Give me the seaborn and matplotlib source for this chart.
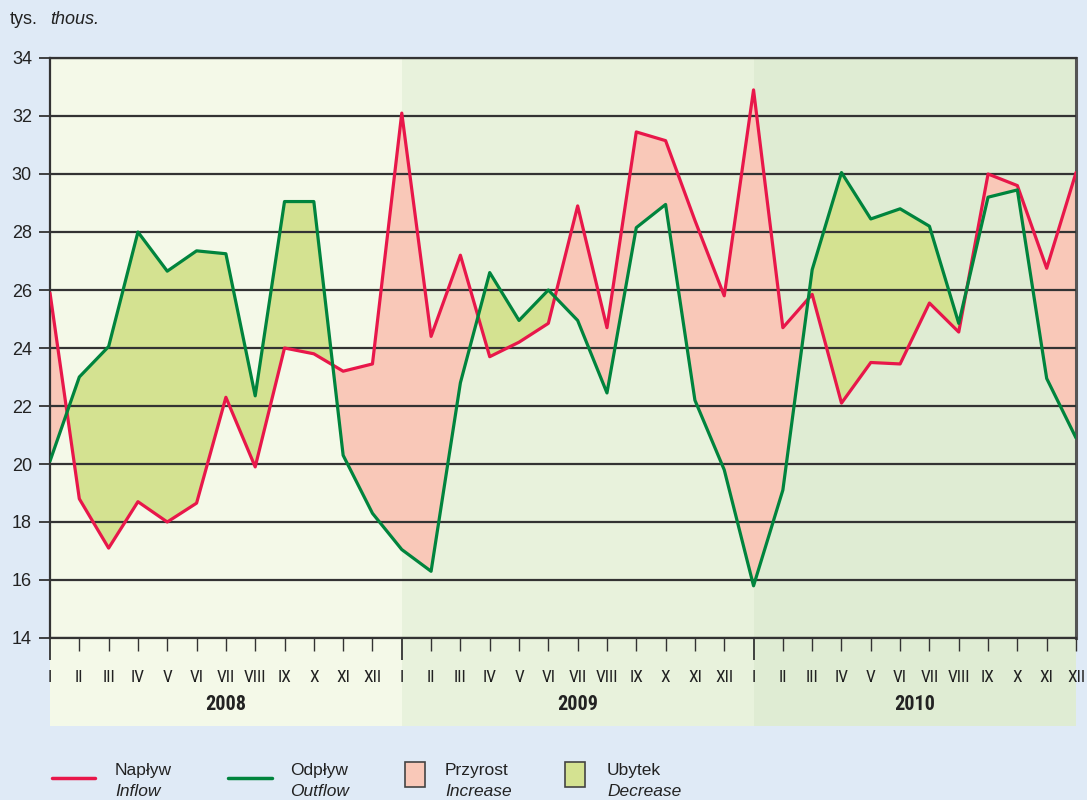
"""
napływ i odpływ 2008-2010
"""

import matplotlib.pyplot as plt
import numpy as np
import pandas as pd
import seaborn as sns
from matplotlib import font_manager
from matplotlib.lines import Line2D
from matplotlib.patches import Rectangle

# data
years = ["2008", "2009", "2010"]
months = ["I", "II", "III", "IV", "V", "VI", "VII", "VIII", "IX", "X", "XI", "XII"]
inflow = [
    25.9, 18.8, 17.1, 18.7, 18.0, 18.65, 22.3, 19.9, 24.0, 23.8, 23.2, 23.45,
    32.1, 24.4, 27.2, 23.7, 24.2, 24.85, 28.9, 24.7, 31.45, 31.15, 28.4, 25.8,
    32.9, 24.7, 25.85, 22.1, 23.5, 23.45, 25.55, 24.55, 30.0, 29.6, 26.75, 30.05,
]
outflow = [
    20.1, 23.0, 24.05, 28.0, 26.65, 27.35, 27.25, 22.35, 29.05, 29.05, 20.3, 18.3,
    17.05, 16.3, 22.8, 26.6, 24.95, 26.0, 24.95, 22.45, 28.15, 28.95, 22.2, 19.8,
    15.8, 19.1, 26.7, 30.05, 28.45, 28.8, 28.2, 24.85, 29.2, 29.45, 22.95, 20.9,
]

# colours
bgColor = "#dfeaf6"
bandColors = ["#f4f9e8", "#e8f2dc", "#dfecd3"]
redColor = "#e8174a"
greenColor = "#00843d"
increaseColor = "#f9c8b8"
decreaseColor = "#d4e291"
gridColor = "#333333"
textColor = "#222222"

idx = np.arange(len(inflow))
df = pd.DataFrame(
    {
        "idx": np.concatenate([idx, idx]),
        "value": inflow + outflow,
        "series": ["Napływ"] * len(inflow) + ["Odpływ"] * len(outflow),
    }
)

sns.set_style("white")
plt.rcParams["font.family"] = ["Liberation Sans", "DejaVu Sans"]

# condensed face for month / year labels, if one is installed
installed = {f.name for f in font_manager.fontManager.ttflist}
narrow = [n for n in ("Liberation Sans Narrow", "DejaVu Sans Condensed",
                      "Roboto Condensed", "Open Sans Condensed") if n in installed]
narrowStretch = None
if not narrow:
    condensed = sorted({f.name for f in font_manager.fontManager.ttflist
                        if "ondensed" in f.name or "arrow" in f.name})
    narrow = condensed[:1]
    if not narrow:
        # try stretch variants registered under a normal family name
        for f in font_manager.fontManager.ttflist:
            if f.stretch in ("condensed", "semi-condensed", 75, 87.5) or (
                    isinstance(f.stretch, int) and f.stretch < 100):
                narrow = [f.name]
                narrowStretch = "condensed"
                break
narrow = narrow + ["Liberation Sans", "DejaVu Sans"]

fig = plt.figure(figsize=(10.87, 8), dpi=100, facecolor=bgColor)
W, H = 1087, 800
ax = fig.add_axes([50 / W, (H - 638) / H, 1026 / W, 580 / H])
ax2 = fig.add_axes([50 / W, (H - 726) / H, 1026 / W, 88 / H])
ax.set_zorder(2)
ax2.set_zorder(1)

# year bands
starts = [0, 12, 24]
ends = [12, 24, 35]
for a in (ax, ax2):
    for s, e, c in zip(starts, ends, bandColors):
        a.axvspan(s, e, color=c, lw=0, zorder=0)
    a.set_xlim(0, 35)

# fills
ax.fill_between(idx, inflow, outflow, where=np.array(inflow) >= np.array(outflow),
                interpolate=True, color=increaseColor, lw=0, zorder=1)
ax.fill_between(idx, inflow, outflow, where=np.array(inflow) <= np.array(outflow),
                interpolate=True, color=decreaseColor, lw=0, zorder=1)

# lines
sns.lineplot(data=df, x="idx", y="value", hue="series",
             palette={"Napływ": redColor, "Odpływ": greenColor},
             linewidth=2.3, legend=False, ax=ax, zorder=3)

ax.set_ylim(14, 34)
ax.set_yticks(range(14, 35, 2))
ax.set_xlabel("")
ax.set_ylabel("")
ax.grid(axis="y", color=gridColor, lw=1.6, zorder=2)
ax.set_axisbelow(False)
for g in ax.get_ygridlines():
    g.set_zorder(2)
ax.set_facecolor("none")
for side in ("left", "top", "bottom"):
    ax.spines[side].set_color(gridColor)
    ax.spines[side].set_linewidth(1.6)
ax.spines["right"].set_color("#555555")
ax.spines["right"].set_linewidth(2.2)

ax.set_xticks(starts)
ax.set_xticks([i for i in idx if i % 12 != 0], minor=True)
ax.tick_params(axis="x", which="major", bottom=True, length=16, width=1.3,
               color=gridColor, direction="out", labelbottom=False)
ax.tick_params(axis="x", which="minor", bottom=True, length=9.5, width=1.0,
               color=gridColor, direction="out", labelbottom=False)
ax.tick_params(axis="y", left=True, length=8, width=1.3, color=gridColor,
               direction="out", labelsize=13, pad=5, labelcolor=textColor)

# month and year labels
ax2.set_ylim(0, 88)
ax2.axis("off")
extra = {"fontstretch": narrowStretch} if narrowStretch else {}
for i in idx:
    ax2.text(i, 88 - 39, months[i % 12], ha="center", va="center",
             fontsize=12.5, family=narrow, color=textColor, **extra)
for s, e, y in zip(starts, ends, years):
    ax2.text((s + e) / 2, 88 - 67, y, ha="center", va="center",
             fontsize=14.5, fontweight="bold", family=narrow, color=textColor, **extra)

# unit
fig.text(10 / W, 1 - 19 / H, "tys.", fontsize=13, va="center", color=textColor)
fig.text(50 / W, 1 - 19 / H, "thous.", fontsize=13, va="center",
         style="italic", color=textColor)


# legend
def fy(y):
    return 1 - y / H


fig.add_artist(Line2D([52 / W, 95 / W], [fy(778), fy(778)], color=redColor, lw=2.5))
fig.add_artist(Line2D([228 / W, 272 / W], [fy(778), fy(778)], color=greenColor, lw=2.5))
fig.add_artist(Rectangle((405 / W, fy(787)), 20 / W, 25 / H, facecolor=increaseColor,
                         edgecolor="#444444", lw=1.2))
fig.add_artist(Rectangle((565 / W, fy(787)), 20 / W, 25 / H, facecolor=decreaseColor,
                         edgecolor="#444444", lw=1.2))
legendItems = [(115, "Napływ", "Inflow"), (290, "Odpływ", "Outflow"),
               (445, "Przyrost", "Increase"), (607, "Ubytek", "Decrease")]
for x, pl, en in legendItems:
    fig.text(x / W, fy(770), pl, fontsize=12.5, va="center", color=textColor)
    fig.text(x / W, fy(791), en, fontsize=12.5, va="center", style="italic",
             color=textColor)

fig.savefig("out.png", dpi=100, facecolor=bgColor)
